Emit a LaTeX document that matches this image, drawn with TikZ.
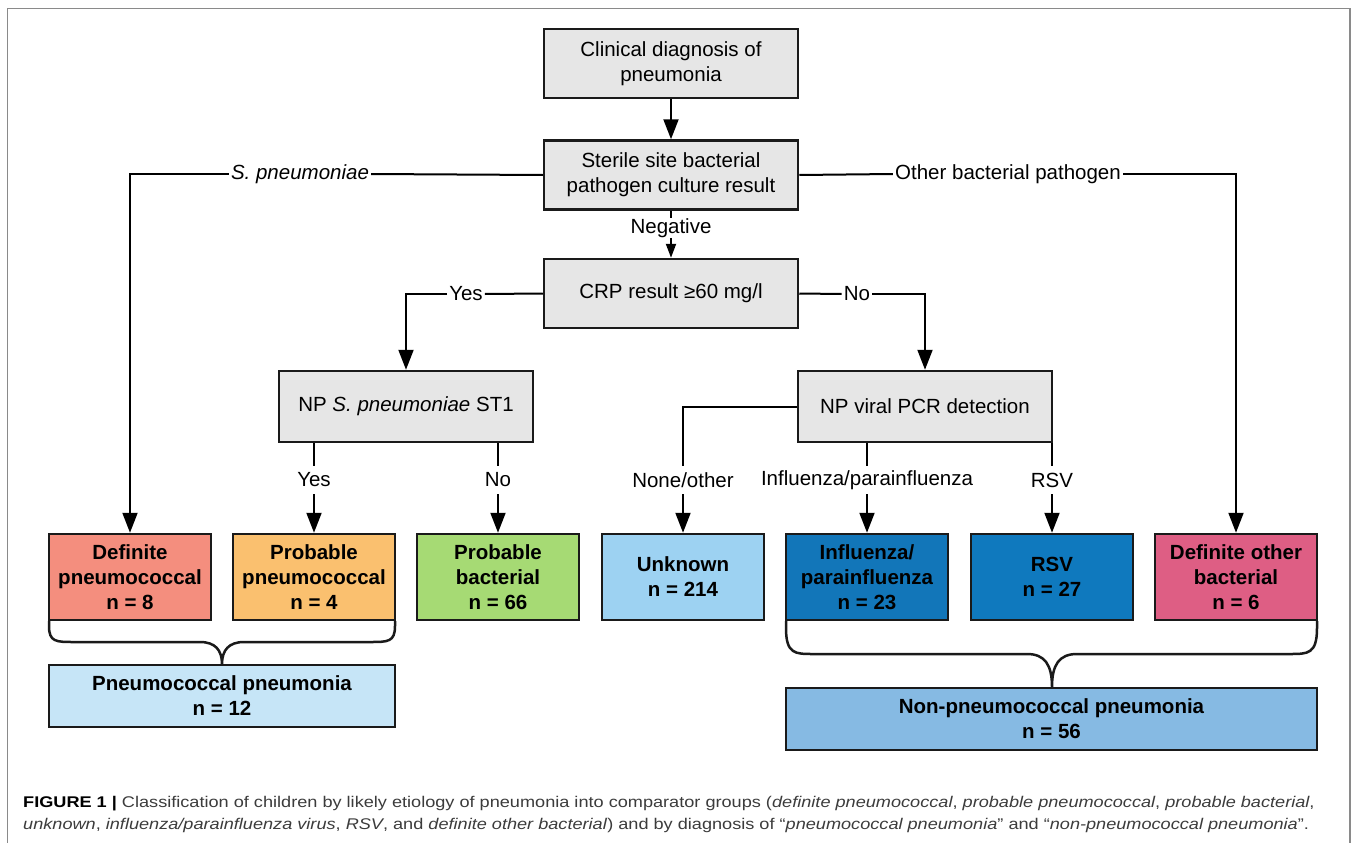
\documentclass[tikz,border=0pt]{standalone}
\usepackage{fontspec}
\usepackage{graphicx}
\setmainfont{Liberation Sans}
\usetikzlibrary{arrows.meta,calc}
\definecolor{boxline}{HTML}{1A1A1A}
\definecolor{grayfill}{HTML}{E6E6E6}
\definecolor{cdp}{HTML}{F48E7E}
\definecolor{cpp}{HTML}{FAC06F}
\definecolor{cpb}{HTML}{A6DA74}
\definecolor{cunk}{HTML}{9DD2F2}
\definecolor{cinf}{HTML}{1276B9}
\definecolor{crsv}{HTML}{0F79BE}
\definecolor{cdob}{HTML}{DE5E84}
\definecolor{cpneu}{HTML}{C6E5F7}
\definecolor{cnon}{HTML}{86BAE3}
\definecolor{framegray}{HTML}{8A8A8A}
\definecolor{captext}{HTML}{3C3C3C}
\begin{document}
\begin{tikzpicture}[x=1pt,y=-1pt,
  graybox/.style={draw=boxline, line width=2.5pt, fill=grayfill, minimum width=254pt, minimum height=69pt, inner sep=0pt, align=center, font=\fontsize{20.5}{25}\selectfont},
  catbox/.style={draw=boxline, line width=2.5pt, minimum width=162pt, minimum height=86pt, inner sep=0pt, align=center, font=\fontsize{20.5}{25}\selectfont\bfseries},
  grpbox/.style={draw=boxline, line width=2.5pt, minimum height=62pt, inner sep=0pt, align=center, font=\fontsize{20.5}{25}\selectfont\bfseries},
  lab/.style={inner xsep=2pt, inner ysep=0pt, minimum height=28pt, font=\fontsize{20.5}{25}\selectfont},
  conn/.style={line width=2pt, draw=black},
  arr/.style={conn, -{Triangle[length=20pt,width=15pt]}},
  sarr/.style={conn, -{Triangle[length=14pt,width=10pt]}},
  bracel/.style={line width=2.5pt, draw=boxline, line join=round},
  captxt/.style={anchor=base west, inner sep=0pt, text=captext, font=\fontsize{15.5}{20}\selectfont}
]
\useasboundingbox (0,0) rectangle (1358,843);
\fill[white] (0,0) rectangle (1358,843);
\draw[framegray, line width=1.5pt] (7.5,843) -- (7.5,8.5) -- (1350,8.5) -- (1350,843);

% main chain
\node[graybox] (clin) at (671,63.5) {Clinical diagnosis of\\pneumonia};
\node[graybox] (ster) at (671,175) {Sterile site bacterial\\pathogen culture result};
\node[graybox] (crp) at (671,293.5) {CRP result ≥60 mg/l};
\node[graybox, minimum height=71pt] (npsp) at (406,406.5) {NP \textit{S. pneumoniae} ST1};
\node[graybox, minimum height=71pt] (npv) at (925,406.5) {NP viral PCR detection};

% category boxes
\node[catbox, fill=cdp] (dp) at (130,577) {Definite\\pneumococcal\\n = 8};
\node[catbox, fill=cpp] (pp) at (314,577) {Probable\\pneumococcal\\n = 4};
\node[catbox, fill=cpb] (pb) at (498,577) {Probable\\bacterial\\n = 66};
\node[catbox, fill=cunk] (unk) at (683,577) {Unknown\\n = 214};
\node[catbox, fill=cinf] (inf) at (867,577) {Influenza/\\parainfluenza\\n = 23};
\node[catbox, fill=crsv] (rsv) at (1052,577) {RSV\\n = 27};
\node[catbox, fill=cdob] (dob) at (1236,577) {Definite other\\bacterial\\n = 6};

% group boxes
\node[grpbox, fill=cpneu, minimum width=346pt] (pneu) at (222,696) {Pneumococcal pneumonia\\n = 12};
\node[grpbox, fill=cnon, minimum width=531pt] (nonp) at (1051.5,719) {Non-pneumococcal pneumonia\\n = 56};

% labels
\node[lab, minimum height=18pt] (neg) at (671,228) {Negative};
\node[lab] (spn) at (300,174) {\textit{S. pneumoniae}};
\node[lab] (obp) at (1008,174) {Other bacterial pathogen};
\node[lab] (yes1) at (466,294) {Yes};
\node[lab] (no1) at (857,294) {No};
\node[lab] (yes2) at (314,480) {Yes};
\node[lab] (no2) at (498,480) {No};
\node[lab] (none) at (683,480) {None/other};
\node[lab] (infl) at (867,480) {Influenza/parainfluenza};
\node[lab] (rsvl) at (1052,480) {RSV};

% connectors
\draw[arr] (clin) -- (ster);
\draw[conn] (ster) -- (neg);
\draw[sarr] (neg) -- (crp);
\draw[conn] (ster.west) -- (spn.east);
\draw[arr] (spn.west) -| (dp.north);
\draw[conn] (ster.east) -- (obp.west);
\draw[arr] (obp.east) -| (dob.north);
\draw[conn] (crp.west) -- (yes1.east);
\draw[arr] (yes1.west) -| (npsp.north);
\draw[conn] (crp.east) -- (no1.west);
\draw[arr] (no1.east) -| (npv.north);
\draw[conn] (npsp.south -| yes2.north) -- (yes2.north);
\draw[arr] (yes2.south) -- (pp.north);
\draw[conn] (npsp.south -| no2.north) -- (no2.north);
\draw[arr] (no2.south) -- (pb.north);
\draw[conn] (npv.west) -| (none.north);
\draw[arr] (none.south) -- (unk.north);
\draw[conn] (npv.south -| infl.north) -- (infl.north);
\draw[arr] (infl.south) -- (inf.north);
\draw[conn] (npv.south -| rsvl.north) -- (rsvl.north);
\draw[arr] (rsvl.south) -- (rsv.north);

% braces
\draw[bracel] (49,621) -- (49,626) .. controls (49,642) and (56,642) .. (74,642) -- (200,642) .. controls (215,642) and (222,650) .. (222,664)
  .. controls (222,650) and (229,642) .. (244,642) -- (370,642) .. controls (388,642) and (395,642) .. (395,626) -- (395,621);
\draw[bracel] (786,621) -- (786,628) .. controls (786,654) and (795,654) .. (813,654) -- (1027,654) .. controls (1045,654) and (1052,665) .. (1052,687)
  .. controls (1052,665) and (1059,654) .. (1077,654) -- (1290,654) .. controls (1308,654) and (1317,654) .. (1317,628) -- (1317,621);

% caption
\node[captxt] (cap1) at (23,807)
  {\scalebox{1.17}[1]{\textcolor{black}{\textbf{FIGURE 1 |}} Classification of children by likely etiology of pneumonia into comparator groups (\textit{definite pneumococcal}, \textit{probable pneumococcal}, \textit{probable bacterial},}};
\node[captxt] (cap2) at (23,829)
  {\scalebox{1.17}[1]{\textit{unknown}, \textit{influenza/parainfluenza virus}, \textit{RSV}, and \textit{definite other bacterial}) and by diagnosis of “\textit{pneumococcal pneumonia}” and “\textit{non-pneumococcal pneumonia}”.}};
\end{tikzpicture}
\end{document}
